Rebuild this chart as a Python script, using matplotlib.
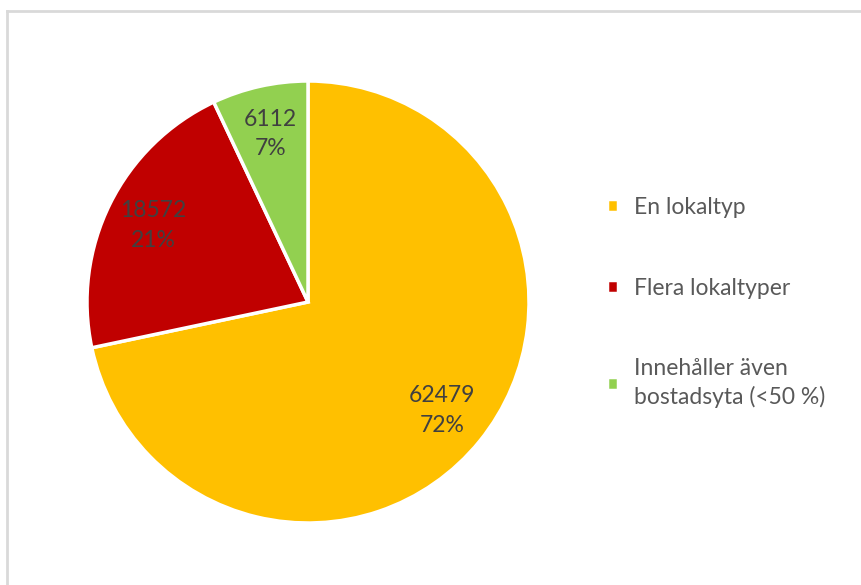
import numpy as np
import matplotlib.pyplot as plt
from matplotlib.lines import Line2D

plt.rcParams['font.family'] = ['Lato', 'DejaVu Sans']

categories = ["En lokaltyp", "Flera lokaltyper", "Innehåller även\nbostadsyta (<50 %)"]
values = [62479, 18572, 6112]
colors = ["#FFC000", "#C00000", "#92D050"]

total = sum(values)


def fmt(pct):
    n = int(round(pct * total / 100.0))
    return f"{n}\n{pct:.0f}%"


fig = plt.figure(figsize=(8.62, 5.85), dpi=100)
ax = fig.add_axes([0, 0, 1, 1])

# pie centre ~ (308, 302) px, radius ~221 px
r_px = 221.0
cx, cy = 308.0, 585.0 - 302.0
wedges, texts, autotexts = ax.pie(
    values, colors=colors, startangle=90, counterclock=False,
    autopct=fmt, pctdistance=0.78,
    wedgeprops=dict(edgecolor="white", linewidth=2.5),
    textprops=dict(color="#404040", fontsize=16.5, linespacing=1.5),
)
ax.set_xlim(-cx / r_px, (862 - cx) / r_px)
ax.set_ylim(-cy / r_px, (585 - cy) / r_px)
ax.set_aspect("auto")
ax.axis("off")

leg = ax.legend(
    wedges, categories, loc="upper left",
    bbox_to_anchor=(607 / 862, 1 - 197 / 585), bbox_transform=fig.transFigure,
    frameon=False, fontsize=16.5, labelspacing=2.6,
    handlelength=0.5, handleheight=0.5, handletextpad=0.7, borderpad=0,
    borderaxespad=0,
)
for t in leg.get_texts():
    t.set_color("#595959")
    t.set_linespacing(1.35)

# outer chart-area border (only left and top visible in the crop)
fig.add_artist(Line2D([7.5 / 862, 7.5 / 862], [0, 1 - 11 / 585],
                      transform=fig.transFigure, color="#d9d9d9", lw=2))
fig.add_artist(Line2D([7.5 / 862, 1], [1 - 11 / 585, 1 - 11 / 585],
                      transform=fig.transFigure, color="#d9d9d9", lw=2))

fig.savefig("out.png", dpi=100)
